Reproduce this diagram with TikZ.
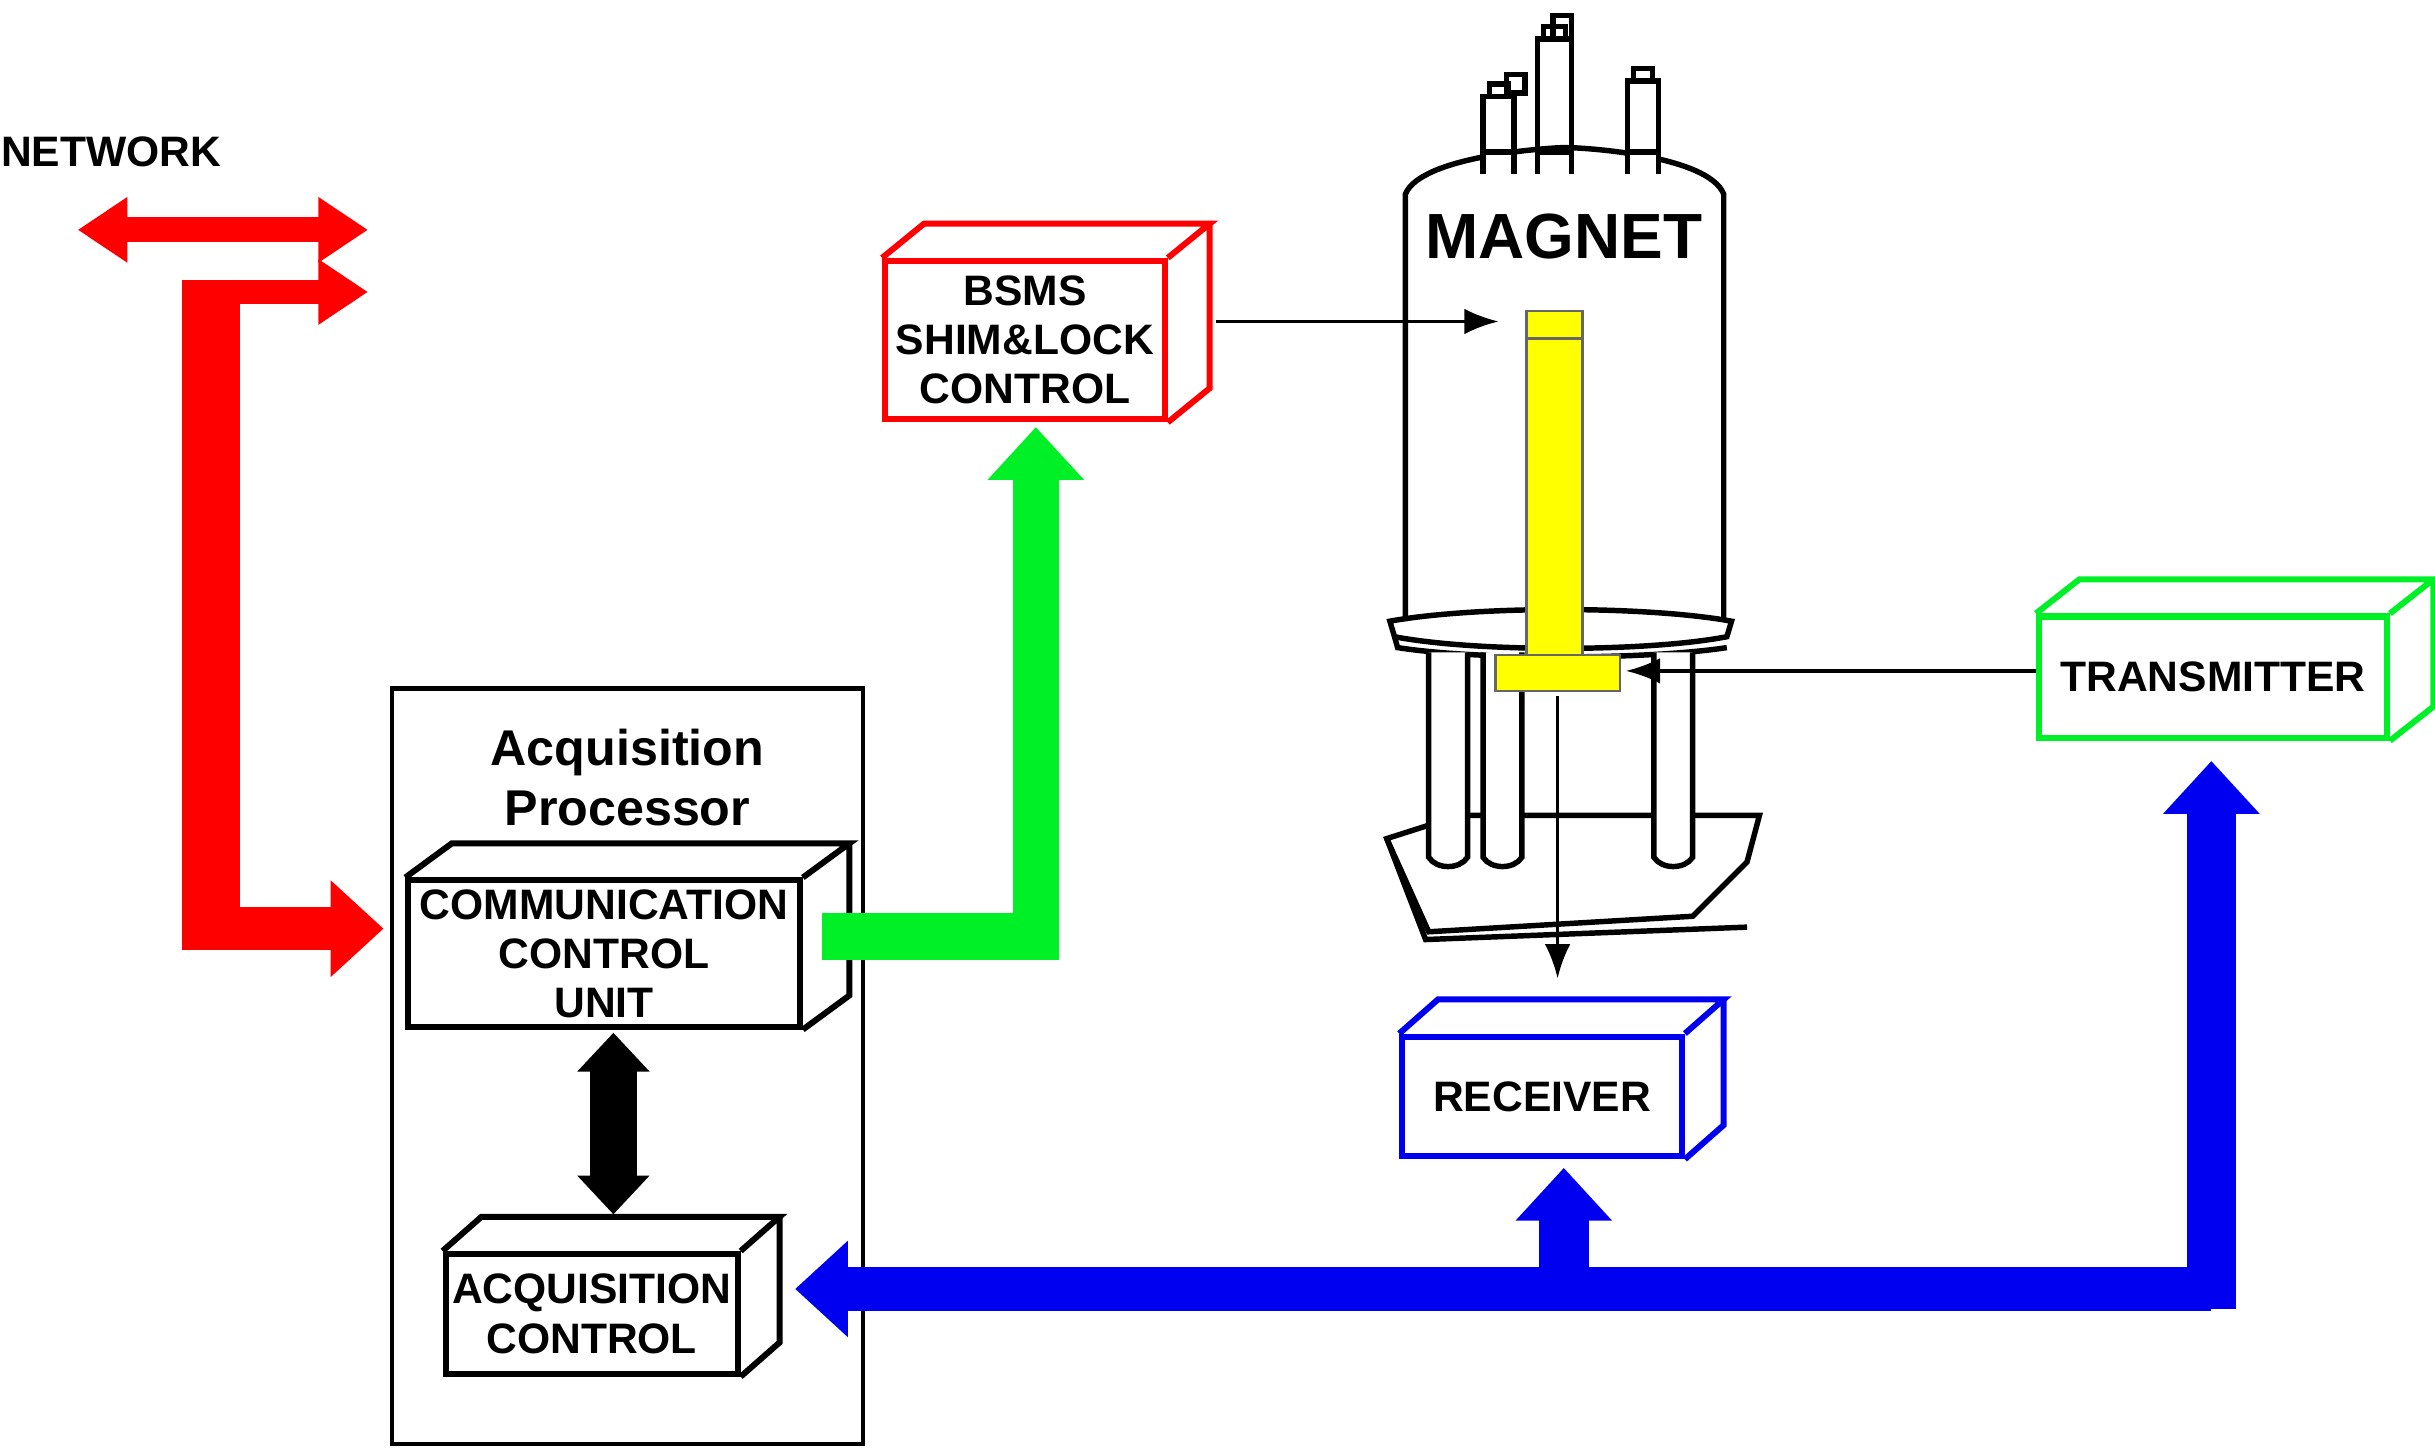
\documentclass[tikz,border=0pt]{standalone}
\usepackage{fontspec}
\setmainfont{Liberation Sans}
\usetikzlibrary{arrows.meta,positioning}
\definecolor{netred}{RGB}{255,0,0}
\definecolor{lockgreen}{RGB}{0,240,40}
\definecolor{rxblue}{RGB}{0,0,240}
\definecolor{probe}{RGB}{255,255,0}
\tikzset{
    unit/.style={draw=#1, line width=1.1pt, align=center, inner sep=0pt, font=\bfseries\fontsize{7.8}{9}\selectfont},
    bigarrow/.style={draw=#1, line width=0.3cm, -{Triangle[length=0.34cm,width=0.6cm]}},
    thin/.style={-{Latex[length=0.22cm]}, line width=0.6pt}
}
% depth of a box drawn as a 3D block
\newcommand{\boxdepth}[4]{\draw[#4, line width=1.1pt] (#1.north west) -- ++(#2,#3) -- ([shift={(#2,#3)}]#1.north east) -- (#1.north east) ([shift={(#2,#3)}]#1.north east) -- ([shift={(#2,#3)}]#1.south east) -- (#1.south east);}
\begin{document}
\begin{tikzpicture}[x=0.01cm,y=-0.01cm]
\useasboundingbox (0,0) rectangle (1568,932);
% acquisition processor frame
\node[draw, line width=0.8pt, minimum width=3.03cm, minimum height=4.86cm, anchor=north west] (acq) at (251,442) {};
\node[font=\bfseries\fontsize{9.2}{11}\selectfont, align=center, below=0.15cm of acq.north] (acqlbl) {Acquisition\\Processor};
% units
\node[unit=black, minimum width=2.52cm, minimum height=0.94cm] (ccu) at (389,614) {COMMUNICATION\\CONTROL\\UNIT};
\boxdepth{ccu}{30}{-22}{black}
\node[unit=black, minimum width=1.88cm, minimum height=0.77cm] (acu) at (381,846) {ACQUISITION\\CONTROL};
\boxdepth{acu}{25}{-22}{black}
\node[unit=netred, minimum width=1.8cm, minimum height=1.02cm] (bsms) at (660,219) {BSMS\\SHIM\&LOCK\\CONTROL};
\boxdepth{bsms}{27}{-22}{netred}
\node[unit=lockgreen, minimum width=2.24cm, minimum height=0.78cm] (tx) at (1425,436) {TRANSMITTER};
\boxdepth{tx}{28}{-22}{lockgreen}
\node[unit=rxblue, minimum width=1.8cm, minimum height=0.77cm] (rx) at (993,706) {RECEIVER};
\boxdepth{rx}{25}{-22}{rxblue}
% network
\node[font=\bfseries\fontsize{7.8}{9}\selectfont, anchor=west, inner sep=0] (net) at (0,98) {NETWORK};
\coordinate (netl) at (50,148);
\coordinate (netr) at (237,148);
\coordinate (netin) at (237,188);
\draw[netred, line width=0.16cm, {Triangle[length=0.32cm,width=0.4cm]}-{Triangle[length=0.32cm,width=0.4cm]}] (netl) -- (netr);
\draw[netred, line width=0.16cm, -{Triangle[length=0.32cm,width=0.4cm]}] (118,188) -- (netin);
\draw[netred, line width=0.37cm] (136,180) -- (136,612);
\coordinate (ccuin) at (247,598);
\draw[bigarrow=netred, line width=0.28cm] (118,598) -- (ccuin);
% ccu <-> acquisition control
\coordinate (ccub) at (395,665);
\coordinate (acut) at (395,782);
\draw[black, line width=0.3cm, {Triangle[length=0.25cm,width=0.45cm]}-{Triangle[length=0.25cm,width=0.45cm]}] (ccub) -- (acut);
% green to bsms
\coordinate (ccuout) at (529,603);
\coordinate (bsmsin) at (667,275);
\draw[bigarrow=lockgreen, line width=0.3cm] (ccuout) -| (bsmsin);
% magnet
\begin{scope}[line width=1pt]
  \foreach \x/\t/\b/\w in {955/62/115/20, 990/25/112/22, 1048/52/112/20} {
    \draw[fill=white] (\x,\b) -- (\x,\t) -- (\x+\w,\t) -- (\x+\w,\b);
    \draw[fill=white] (\x+4,\t) rectangle (\x+\w-4,\t-8);
  }
  \draw (970,48) rectangle (982,60) (1000,10) rectangle (1012,25);
  \draw[fill=white] (905,400) -- (905,125) .. controls (915,100) and (1000,95) .. (1008,95) .. controls (1020,95) and (1100,100) .. (1110,125) -- (1110,400);
  \foreach \x/\w in {955/20, 990/22, 1048/20} \draw[fill=white] (\x,112) -- (\x,98) -- (\x+\w,98) -- (\x+\w,112);
  \draw (895,400) .. controls (950,390) and (1060,390) .. (1115,400) -- (1112,410) .. controls (1060,420) and (950,420) .. (898,410) -- cycle;
  \draw (898,410) -- (900,417) .. controls (950,425) and (1060,425) .. (1112,417);
  \draw (893,540) -- (940,525) -- (1133,525) -- (1125,555) -- (1090,590) -- (920,600) -- cycle;
  \draw (893,540) -- (918,605) -- (1125,597);
  \foreach \x in {920,955,1065} \draw[fill=white] (\x,420) -- (\x,552) .. controls (\x+5,560) and (\x+20,560) .. (\x+25,552) -- (\x+25,420);
\end{scope}
\draw[fill=probe, draw=black!60] (983,200) rectangle (1019,425);
\draw[draw=black!60] (983,218) -- (1019,218);
\draw[fill=probe, draw=black!60] (963,422) rectangle (1043,445);
\node[font=\bfseries\fontsize{11.7}{14}\selectfont] (mag) at (1007,152) {MAGNET};
\coordinate (bsmsout) at (783,207);
\coordinate (magin) at (965,207);
\coordinate (probein) at (1047,432);
\coordinate (probeout) at (1003,448);
\coordinate (rxtop) at (1003,630);
\draw[thin] (bsmsout) -- (magin);
\draw[thin] (tx.west |- probein) -- (probein);
\draw[thin] (probeout) -- (rxtop);
% blue return path
\coordinate (bend) at (1424,830);
\coordinate (acuin) at (512,830);
\coordinate (txin) at (1424,490);
\coordinate (rxin) at (1007,752);
\draw[bigarrow=rxblue, line width=0.28cm] (bend) -- (acuin);
\draw[bigarrow=rxblue, line width=0.32cm] (1424,843) -- (txin);
\draw[bigarrow=rxblue, line width=0.32cm] (1007,818) -- (rxin);
\end{tikzpicture}
\end{document}
